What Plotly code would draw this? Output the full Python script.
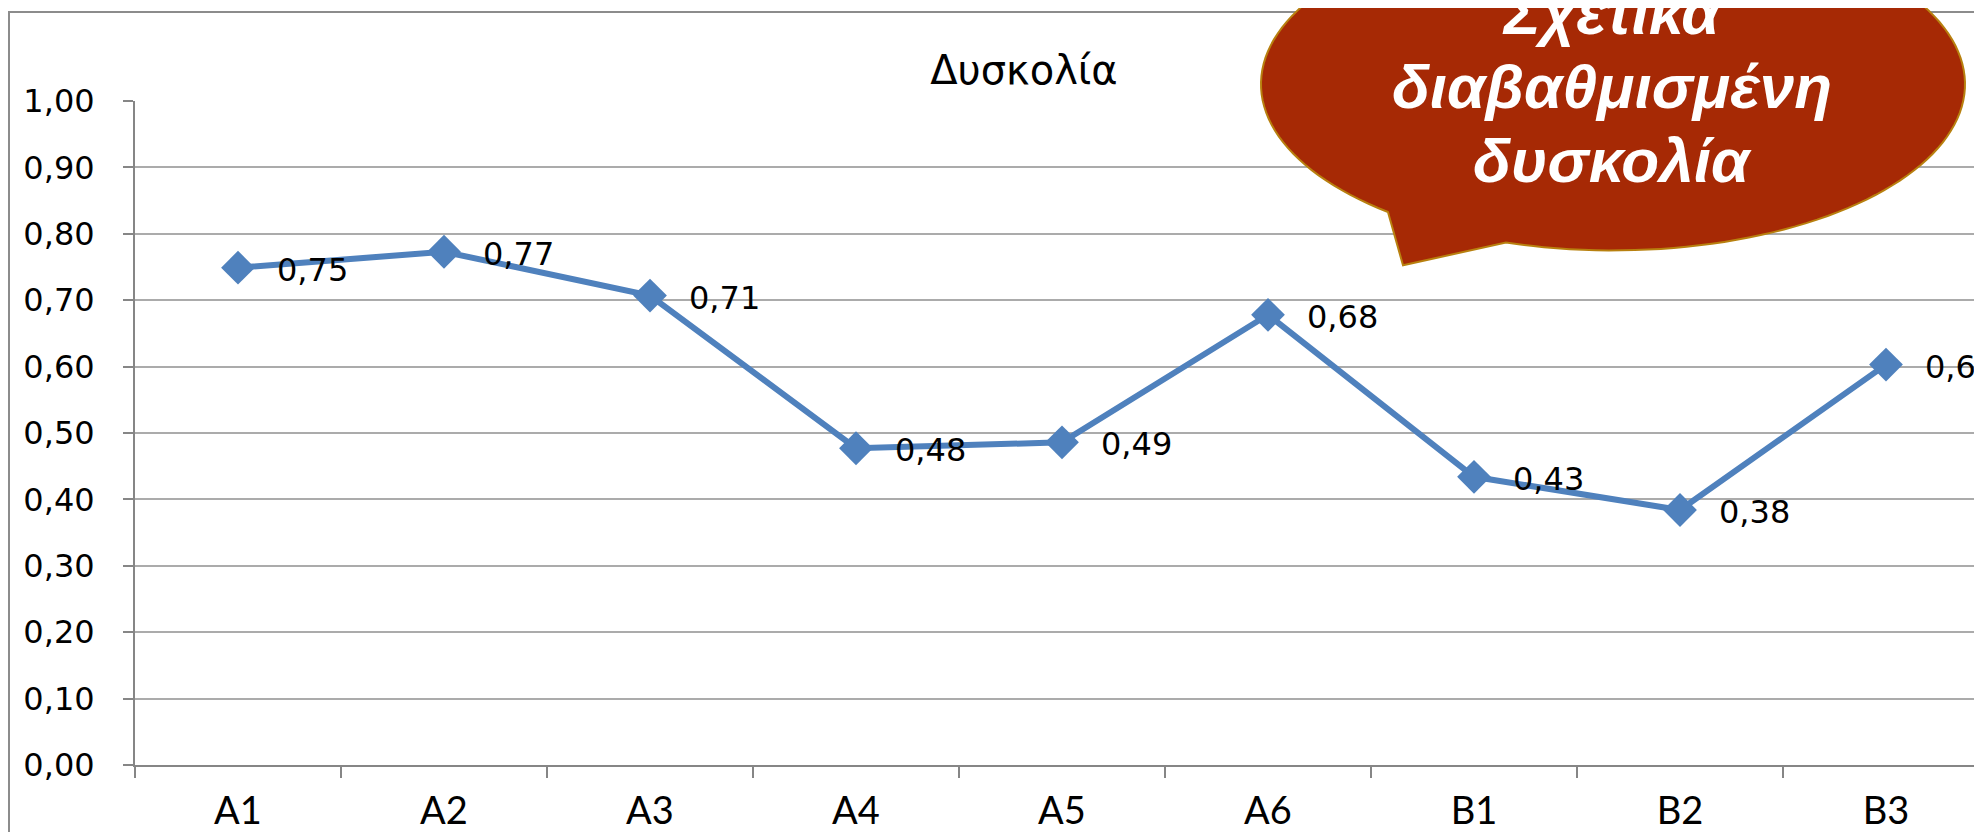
import numpy as np
import plotly.graph_objects as go

# data
items = ["A1", "A2", "A3", "A4", "A5", "A6", "B1", "B2", "B3"]
difficulty = [0.749, 0.773, 0.707, 0.477, 0.486, 0.678, 0.434, 0.384, 0.603]
title_text = "Δυσκολία"
callout_lines = ["Σχετικά", "διαβαθμισμένη", "δυσκολία"]

# page has an 8px body margin, so work in window pixels and shift
OFF = 8
W, H = 1982 - OFF, 832 - OFF
ML, MR, MT, MB = 135 - OFF, 0, 101 - OFF, 832 - 772
PW, PH = W - ML - MR, H - MT - MB


def px(p):
    return (p - OFF - ML) / PW


def py(p):
    return (H - MB - (p - OFF)) / PH


blue = "#4F81BD"
labels = [f"{v:.2f}".replace(".", ",") for v in difficulty]

fig = go.Figure()
fig.add_trace(go.Scatter(
    x=items, y=difficulty, mode="lines+markers",
    line=dict(color=blue, width=6),
    marker=dict(symbol="diamond", size=26, color=blue),
    cliponaxis=False, showlegend=False,
))

# data labels right of each marker
for x, y, t in zip(items, difficulty, labels):
    fig.add_annotation(x=x, y=y, text=t, showarrow=False, xanchor="left",
                       xshift=37, yshift=-2,
                       font=dict(family="DejaVu Sans", size=32, color="black"))

# outer chart frame (left + top edge only, rest is cropped)
fig.add_shape(type="path", xref="paper", yref="paper",
              path=f"M {px(9)},{py(850)} L {px(9)},{py(11)} L {px(2000)},{py(11)}",
              line=dict(color="#8C8C8C", width=2), layer="below")

# speech bubble callout
cx, cy, rx, ry = 1613, 84, 352, 168
t0 = np.arctan2(128 / ry, -223 / rx)
t1 = np.arctan2(160 / ry, -107 / rx) + 2 * np.pi
ts = np.linspace(t0, t1, 160)
pts = [(cx + rx * np.cos(t), cy + ry * np.sin(t)) for t in ts]
pts.append((1403, 267))
path = "M " + " L ".join(f"{px(a):.5f},{py(b):.5f}" for a, b in pts) + " Z"
fig.add_shape(type="path", xref="paper", yref="paper", path=path,
              fillcolor="#A62905", line=dict(color="#B8800F", width=2), layer="above")

for line, yc in zip(callout_lines, [12, 86, 161]):
    fig.add_annotation(x=px(1612), y=py(yc), xref="paper", yref="paper",
                       text=f"<b><i>{line}</i></b>", showarrow=False,
                       xanchor="center", yanchor="middle",
                       font=dict(family="Liberation Sans", size=62, color="white"))

fig.update_layout(
    width=W, height=H,
    margin=dict(l=ML, r=MR, t=MT, b=MB),
    paper_bgcolor="white", plot_bgcolor="white",
    separators=",.",
    title=dict(text=title_text, x=(1024 - OFF) / W, xanchor="center",
               y=1 - (70 - OFF) / H, yanchor="middle",
               font=dict(family="DejaVu Sans", size=40, color="black")),
    xaxis=dict(
        type="category", range=[-0.5, 8.5 - 7 / 206],
        showline=True, linecolor="#868686", linewidth=2,
        ticks="outside", ticklen=11, tickwidth=2, tickcolor="#868686",
        tickson="boundaries", showgrid=False, ticklabelstandoff=11,
        tickfont=dict(family="Lato", size=38, color="black"),
    ),
    yaxis=dict(
        range=[0, 1], dtick=0.1, tickformat=".2f",
        showline=True, linecolor="#868686", linewidth=2,
        ticks="outside", ticklen=10, tickwidth=2, tickcolor="#868686",
        showgrid=True, gridcolor="#ABABAB", gridwidth=1.5,
        zeroline=False, ticklabelstandoff=22,
        tickfont=dict(family="DejaVu Sans", size=32, color="black"),
    ),
)

fig.write_html("out.html")
